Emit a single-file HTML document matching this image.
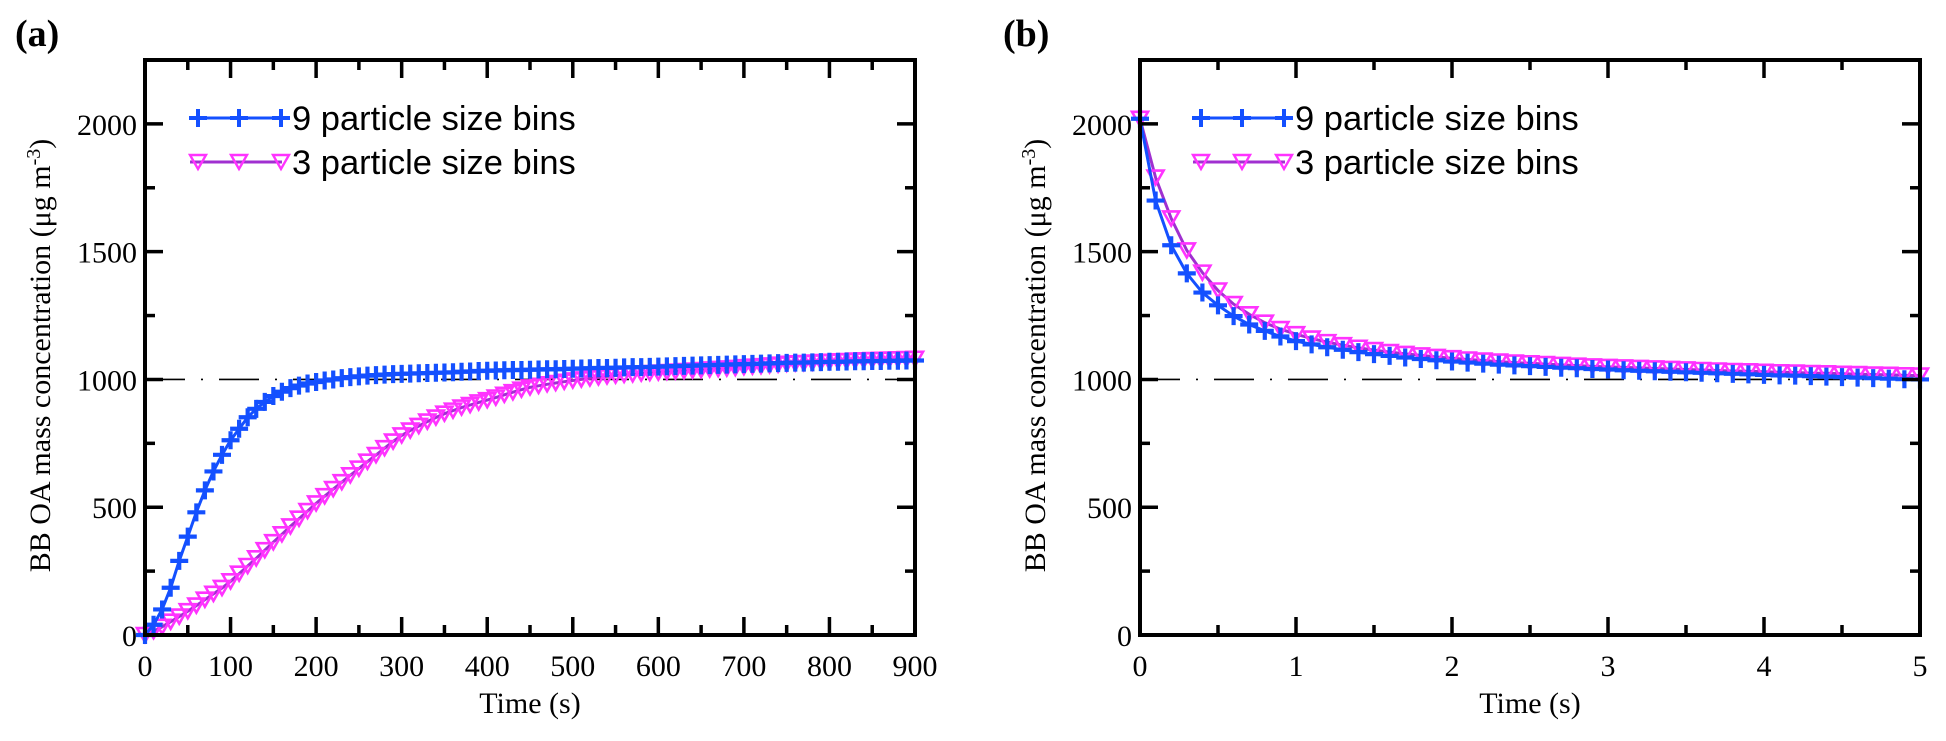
<!DOCTYPE html>
<html><head><meta charset="utf-8">
<style>
html,body{margin:0;padding:0;background:#fff;}
svg{display:block;}
text{font-family:"Liberation Serif",serif;fill:#000;}
.leg{font-family:"Liberation Sans",sans-serif;font-size:34.5px;}
</style></head>
<body>
<svg id="chart" width="1946" height="741" viewBox="0 0 1946 741"></svg>
<script>
// Panel (a) data: time 0..900 step 10
const timeA = Array.from({length:91},(_,i)=>i*10);
const bins9A = [0,40,100,185,290,385,480,566,640,705,762,807,852,885,912,935,952,966,976,984,990,996,1000,1005,1009,1012,1015,1017,1019,1021,1022,1023,1024,1025,1026,1027,1028,1030,1031,1033,1034,1035,1036,1037,1037,1038,1039,1040,1040,1041,1042,1043,1044,1045,1045,1046,1047,1048,1048,1049,1050,1051,1052,1053,1054,1055,1056,1057,1058,1059,1060,1061,1062,1063,1064,1065,1066,1066,1067,1068,1069,1069,1070,1071,1071,1072,1072,1073,1073,1074,1074];
const bins3A = [0,15,32,52,72,93,115,138,161,184,210,240,270,300,332,363,394,425,455,485,515,543,571,598,625,651,678,704,731,757,781,800,818,835,851,866,878,890,900,910,919,929,940,950,960,969,975,981,986,991,996,1000,1004,1008,1012,1015,1018,1020,1023,1025,1027,1029,1031,1033,1035,1037,1039,1041,1043,1045,1048,1050,1052,1055,1058,1061,1063,1064,1066,1068,1069,1071,1072,1074,1075,1076,1077,1078,1079,1080,1081];
// Panel (b) data: time 0..5 step 0.1
const timeB = Array.from({length:51},(_,i)=>i/10);
const bins9B = [2020,1700,1525,1415,1340,1290,1248,1215,1190,1168,1150,1137,1126,1116,1107,1099,1092,1086,1080,1075,1070,1066,1062,1058,1055,1052,1049,1046,1044,1041,1039,1036,1034,1032,1030,1028,1026,1024,1022,1020,1018,1016,1015,1013,1011,1009,1007,1005,1003,1001,1000];
const bins3B = [2020,1790,1630,1505,1418,1348,1295,1255,1222,1197,1177,1160,1146,1134,1124,1115,1107,1100,1094,1088,1083,1078,1074,1070,1066,1063,1060,1057,1054,1051,1049,1047,1045,1043,1041,1039,1037,1035,1033,1032,1030,1028,1027,1025,1024,1022,1021,1019,1018,1016,1015];
const yTicks = [0,500,1000,1500,2000];
const xTicksA = [0,100,200,300,400,500,600,700,800,900];
const xTicksB = [0,1,2,3,4,5];
const refLevel = 1000;
const seriesNames = ["9 particle size bins","3 particle size bins"];

const NS="http://www.w3.org/2000/svg";
const svg=document.getElementById('chart');
function mk(tag,attrs,parent){const e=document.createElementNS(NS,tag);for(const k in attrs)e.setAttribute(k,attrs[k]);(parent||svg).appendChild(e);return e;}

const BLUE="#1450ff", PINK="#ff33ff", PURPLE="#a030d0";

function plusPath(cx,cy){return `M${cx-9},${cy}h18M${cx},${cy-9}v18`;}
function triPath(cx,cy){return `M${cx-8},${cy-7}h16l-8,14z`;}

function panel(cfg){
  const g=mk('g',{});
  
  
  const L=cfg.left,R=cfg.right,T=60,B=635,ymax=2250;
  const sx=v=>L+(v-cfg.xmin)/(cfg.xmax-cfg.xmin)*(R-L);
  const sy=v=>B-v/ymax*(B-T);
  const ref=mk('line',{x1:L,x2:R,y1:sy(refLevel),y2:sy(refLevel),stroke:'#000','stroke-width':1.6,'stroke-dasharray':'40 16 2 16'},g);
  
  
  function drawSeries(xs,ys,kind,nm){
    const sg=mk('g',{},g);
    
    
    const pts=xs.map((x,i)=>sx(x).toFixed(1)+','+sy(ys[i]).toFixed(1)).join(' ');
    mk('polyline',{points:pts,fill:'none',stroke:kind==='plus'?BLUE:PURPLE,'stroke-width':3},sg);
    xs.forEach((x,i)=>{
      const cx=sx(x),cy=sy(ys[i]);
      if(kind==='plus') mk('path',{d:plusPath(cx,cy),stroke:BLUE,'stroke-width':4.2,fill:'none'},sg);
      else mk('path',{d:triPath(cx,cy),stroke:PINK,'stroke-width':2.6,fill:'none'},sg);
    });
  }
  drawSeries(cfg.xs,cfg.y3,'tri','series-3-bins');
  drawSeries(cfg.xs,cfg.y9,'plus','series-9-bins');
  const box=mk('rect',{x:L,y:T,width:R-L,height:B-T,fill:'none',stroke:'#000','stroke-width':4},g);
  
  
  for(let v=0;v<=ymax;v+=250){
    const major=v%500===0, len=major?18:10, y=sy(v);
    mk('line',{x1:L,x2:L+len,y1:y,y2:y,stroke:'#000','stroke-width':3.5},g);
    mk('line',{x1:R,x2:R-len,y1:y,y2:y,stroke:'#000','stroke-width':3.5},g);
  }
  yTicks.forEach(v=>{
    const t=mk('text',{x:L-8,y:sy(v)+11,'text-anchor':'end','font-size':30},g);
    t.textContent=v;
    
    
  });
  for(let v=cfg.xmin;v<=cfg.xmax+1e-9;v+=cfg.minor){
    const k=Math.round(v/cfg.minor), major=k%2===0, len=major?18:10, x=sx(v);
    mk('line',{x1:x,x2:x,y1:B,y2:B-len,stroke:'#000','stroke-width':3.5},g);
    mk('line',{x1:x,x2:x,y1:T,y2:T+len,stroke:'#000','stroke-width':3.5},g);
  }
  cfg.xticks.forEach(v=>{
    const t=mk('text',{x:sx(v),y:676,'text-anchor':'middle','font-size':30},g);
    t.textContent=v;
    
    
  });
  const xt=mk('text',{x:(L+R)/2,y:713,'text-anchor':'middle','font-size':30},g);
  xt.textContent='Time (s)';
  
  
  const yt=mk('text',{x:0,y:0,'text-anchor':'middle','font-size':30,transform:`translate(${cfg.ytx},${(T+B)/2+8}) rotate(-90)`},g);
  yt.innerHTML='BB OA mass concentration (μg m<tspan dy="-10" font-size="20">-3</tspan><tspan dy="10">)</tspan>';
  
  
  const pl=mk('text',{x:cfg.labx,y:46,'font-size':38,'font-weight':'bold'},g);
  pl.textContent=cfg.label;
  
  
  const lg=mk('g',{},g);
  
  
  const lx=cfg.legx;
  [[118,'plus'],[162,'tri']].forEach(([y,kind],i)=>{
    const e=mk('g',{},lg);
    
    
    mk('line',{x1:lx,x2:lx+92,y1:y,y2:y,stroke:kind==='plus'?BLUE:PURPLE,'stroke-width':3},e);
    [lx+8,lx+49,lx+91].forEach(cx=>{
      if(kind==='plus') mk('path',{d:plusPath(cx,y),stroke:BLUE,'stroke-width':4},e);
      else mk('path',{d:triPath(cx,y),stroke:PINK,'stroke-width':2.4,fill:'none'},e);
    });
    const t=mk('text',{x:lx+102,y:y+12,class:'leg'},e);
    t.textContent=seriesNames[i];
  });
}
panel({name:'panel-a',left:145,right:915,xmin:0,xmax:900,minor:50,xs:timeA,y9:bins9A,y3:bins3A,xticks:xTicksA,ytx:50,labx:15,label:'(a)',legx:190});
panel({name:'panel-b',left:1140,right:1920,xmin:0,xmax:5,minor:0.5,xs:timeB,y9:bins9B,y3:bins3B,xticks:xTicksB,ytx:1045,labx:1003,label:'(b)',legx:1193});
</script>
</body></html>
